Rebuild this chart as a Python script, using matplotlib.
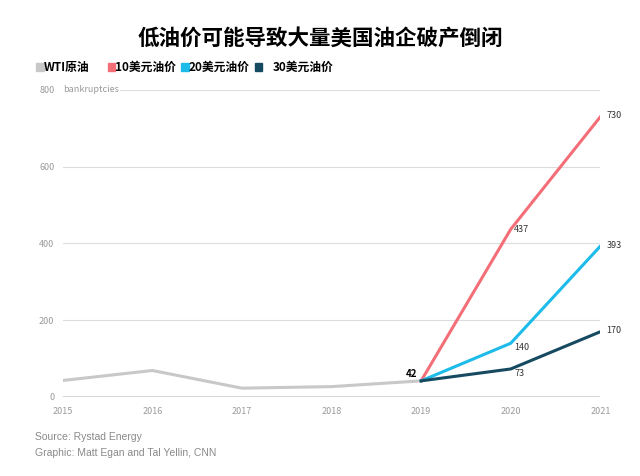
import matplotlib.pyplot as plt

plt.rcParams['font.family'] = ['Noto Sans CJK SC', 'DejaVu Sans']

# 数据
years = [2015, 2016, 2017, 2018, 2019, 2020, 2021]
wti_years = [2015, 2016, 2017, 2018, 2019]
wti = [43, 69, 23, 27, 42]
scen_years = [2019, 2020, 2021]
usd10 = [42, 437, 730]
usd20 = [42, 140, 393]
usd30 = [42, 73, 170]
yticks = [0, 200, 400, 600, 800]

c_wti = '#c8c8c8'
c10 = '#f46e78'
c20 = '#1cbbea'
c30 = '#154a61'
tick_c = '#9a9a9a'

fig = plt.figure(figsize=(6.4, 4.76), dpi=100)
ax = fig.add_axes([0.098, 0.166, 0.84, 0.645])

ax.plot(wti_years, wti, color=c_wti, lw=2.2)
ax.plot(scen_years, usd10, color=c10, lw=2.2)
ax.plot(scen_years, usd20, color=c20, lw=2.2)
ax.plot(scen_years, usd30, color=c30, lw=2.2)

ax.set_xlim(2015, 2021)
ax.set_ylim(0, 800)
ax.set_yticks(yticks)
ax.set_xticks(years)
ax.grid(axis='y', color='#dddddd', lw=0.8)
ax.set_axisbelow(True)
for s in ax.spines.values():
    s.set_visible(False)
ax.axhline(0, color='#d0d0d0', lw=1.2)
ax.tick_params(length=0, labelsize=6.5, colors=tick_c)
ax.tick_params(axis='y', pad=6)
ax.tick_params(axis='x', pad=7)
ax.text(0.0, 800, 'bankruptcies', fontsize=6.5, color=tick_c,
        transform=ax.get_yaxis_transform(), va='center', ha='left',
        bbox=dict(fc='white', ec='none', pad=1))

# 数据标签
lbl = dict(fontsize=6.5, color='#333333', clip_on=False)
ax.text(2019 - 0.04, 42 + 6, '42', ha='right', va='bottom', fontweight='bold', fontsize=7, color='black')
ax.text(2020 + 0.04, 437, '437', ha='left', va='center', **lbl)
ax.text(2020 + 0.04, 128, '140', ha='left', va='center', **lbl)
ax.text(2020 + 0.04, 62, '73', ha='left', va='center', **lbl)
ax.text(2021 + 0.07, 733, '730', ha='left', va='center', **lbl)
ax.text(2021 + 0.07, 396, '393', ha='left', va='center', **lbl)
ax.text(2021 + 0.07, 173, '170', ha='left', va='center', **lbl)

fig.text(0.5, 0.918, '低油价可能导致大量美国油企破产倒闭', ha='center', va='center',
         fontsize=15.5, fontweight='heavy', color='black')

# 图例
legend_items = [(c_wti, 'WTI原油', 0.056), (c10, '10美元油价', 0.168),
                (c20, '20美元油价', 0.283), (c30, '30美元油价', 0.398)]
for color, label, x in legend_items:
    fig.patches.append(plt.Rectangle((x, 0.851), 0.012, 0.016, color=color,
                                     transform=fig.transFigure, figure=fig))
    off = 0.028 if label == '30美元油价' else 0.012
    fig.text(x + off, 0.858, label, fontsize=8.5, fontweight='bold', va='center', ha='left')

fig.text(0.055, 0.075, 'Source: Rystad Energy', fontsize=7.5, color='#8a8a8a',
         family='Liberation Sans')
fig.text(0.055, 0.041, 'Graphic: Matt Egan and Tal Yellin, CNN', fontsize=7.5, color='#8a8a8a',
         family='Liberation Sans')

fig.savefig('out.png', dpi=100)
